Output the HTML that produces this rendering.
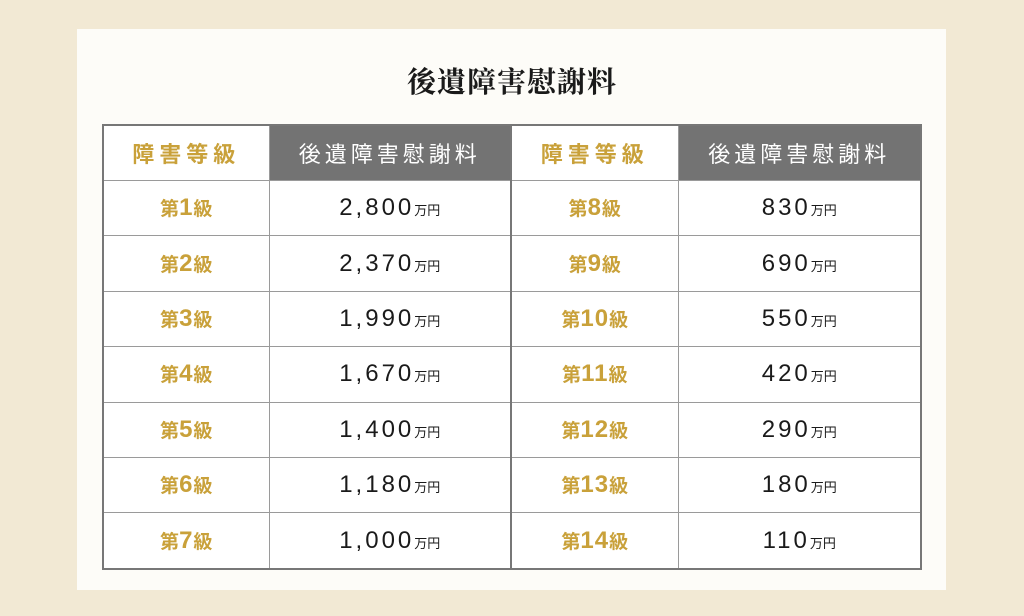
<!DOCTYPE html>
<html><head><meta charset="utf-8"><style>
body{margin:0;width:1024px;height:616px;background:#f2e9d4;position:relative;overflow:hidden;font-family:"Liberation Sans","Noto Sans CJK JP",sans-serif}
.card{position:absolute;left:77px;top:29px;width:869px;height:561px;background:#fdfcf8}
h1{position:absolute;left:0;width:1024px;top:60px;margin:0;text-align:center;font-family:"Liberation Serif","Noto Serif CJK SC",serif;font-size:29px;font-weight:bold;color:#1a1a1a;letter-spacing:1px}
table{position:absolute;left:102px;top:124px;border-collapse:collapse;border:2px solid #777;table-layout:fixed}
td{border:1px solid #9a9a9a;height:54.4px;padding:0;text-align:center;vertical-align:middle}
tr.h td{height:54px}
.gh{color:#c9a13a;font-size:22px;font-weight:bold;letter-spacing:5px;background:#fff}
.dh{background:#737373;color:#fff;font-size:22px;letter-spacing:4px}
.g{color:#c9a13a;font-weight:bold;font-size:19px;background:#fff}
.g b{font-size:24px;letter-spacing:1px}
.n{font-size:24px;color:#1a1a1a;letter-spacing:3px;background:#fff}
.n small{font-size:13px;letter-spacing:0}
td.sep{border-right:2px solid #777}
</style></head><body>
<div class="card"></div>
<h1>後遺障害慰謝料</h1>
<table>
<colgroup><col style="width:166px"><col style="width:242px"><col style="width:167px"><col style="width:243px"></colgroup>
<tr class="h"><td class="gh">障害等級</td><td class="dh sep">後遺障害慰謝料</td><td class="gh">障害等級</td><td class="dh">後遺障害慰謝料</td></tr>
<tr><td class="g">第<b>1</b>級</td><td class="n sep">2,800<small>万円</small></td><td class="g">第<b>8</b>級</td><td class="n">830<small>万円</small></td></tr>
<tr><td class="g">第<b>2</b>級</td><td class="n sep">2,370<small>万円</small></td><td class="g">第<b>9</b>級</td><td class="n">690<small>万円</small></td></tr>
<tr><td class="g">第<b>3</b>級</td><td class="n sep">1,990<small>万円</small></td><td class="g">第<b>10</b>級</td><td class="n">550<small>万円</small></td></tr>
<tr><td class="g">第<b>4</b>級</td><td class="n sep">1,670<small>万円</small></td><td class="g">第<b>11</b>級</td><td class="n">420<small>万円</small></td></tr>
<tr><td class="g">第<b>5</b>級</td><td class="n sep">1,400<small>万円</small></td><td class="g">第<b>12</b>級</td><td class="n">290<small>万円</small></td></tr>
<tr><td class="g">第<b>6</b>級</td><td class="n sep">1,180<small>万円</small></td><td class="g">第<b>13</b>級</td><td class="n">180<small>万円</small></td></tr>
<tr><td class="g">第<b>7</b>級</td><td class="n sep">1,000<small>万円</small></td><td class="g">第<b>14</b>級</td><td class="n">110<small>万円</small></td></tr>
</table>
</body></html>
